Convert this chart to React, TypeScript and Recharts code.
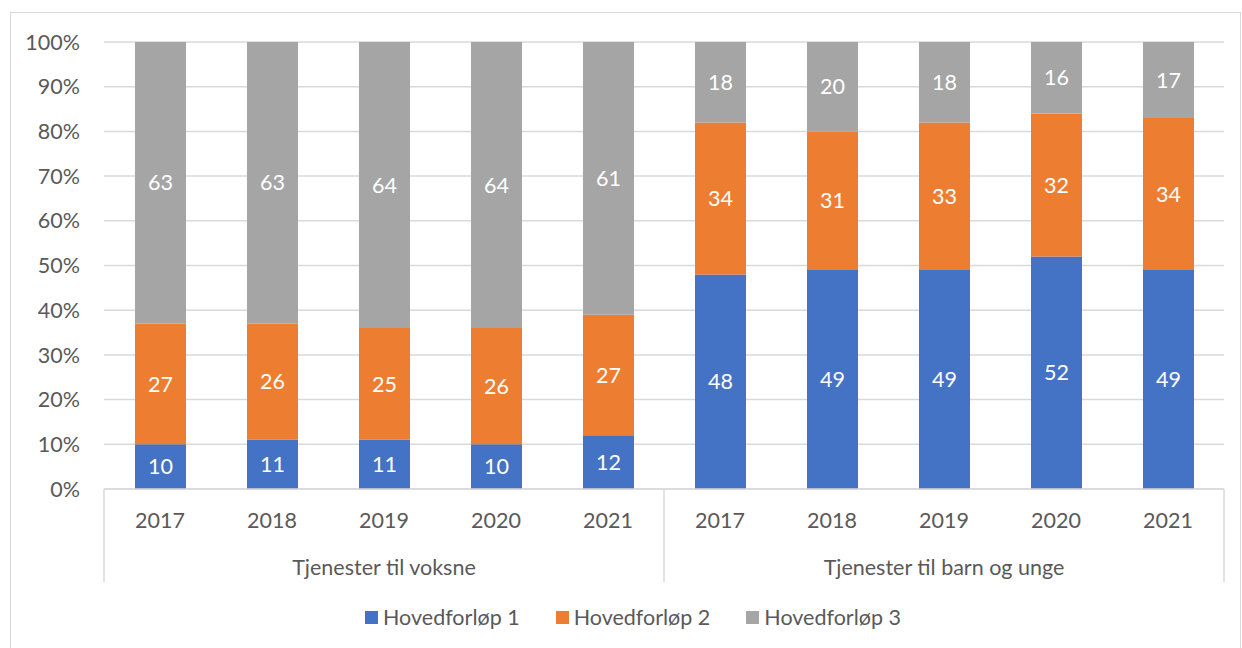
import React from "react";
import { BarChart, Bar, XAxis, YAxis, CartesianGrid, LabelList } from "recharts";

const years = ["2017", "2018", "2019", "2020", "2021", "2017", "2018", "2019", "2020", "2021"];
const groupLabels = ["Tjenester til voksne", "Tjenester til barn og unge"];
const hovedforlop1 = [10, 11, 11, 10, 12, 48, 49, 49, 52, 49];
const hovedforlop2 = [27, 26, 25, 26, 27, 34, 31, 33, 32, 34];
const hovedforlop3 = [63, 63, 64, 64, 61, 18, 20, 18, 16, 17];
const seriesNames = ["Hovedforløp 1", "Hovedforløp 2", "Hovedforløp 3"];
const yTicks = [0, 10, 20, 30, 40, 50, 60, 70, 80, 90, 100];

const COLORS = ["#4472C4", "#ED7D31", "#A5A5A5"];
const FONT = "Lato, 'Open Sans', sans-serif";
const FS = 21.5;
const TEXT = "#595959";
const GRID = "#D9D9D9";

const W = 1242;
const H = 648;
const MARGIN = { top: 42, right: 18, left: 24, bottom: 66 };
const Y_AXIS_W = 80;
const PLOT_W = W - MARGIN.left - MARGIN.right - Y_AXIS_W;
const BAND = PLOT_W / years.length;
const PER_GROUP = 5;

const data = years.map((year, i) => ({
  key: `c${i}`,
  year,
  group: groupLabels[Math.floor(i / PER_GROUP)],
  h1: hovedforlop1[i],
  h2: hovedforlop2[i],
  h3: hovedforlop3[i],
}));

const CategoryTick = (props: any) => {
  const { x, y, index } = props;
  const row = data[index];
  const pos = index % PER_GROUP;
  return (
    <g>
      <text
        x={x}
        y={y + 31}
        textAnchor="middle"
        dominantBaseline="central"
        fill={TEXT}
        fontSize={FS}
        fontFamily={FONT}
      >
        {row.year}
      </text>
      {pos === 0 && (
        <line x1={x - BAND / 2} x2={x - BAND / 2} y1={y} y2={y + 93} stroke={GRID} strokeWidth={1.5} />
      )}
      {index === years.length - 1 && (
        <line x1={x + BAND / 2} x2={x + BAND / 2} y1={y} y2={y + 93} stroke={GRID} strokeWidth={1.5} />
      )}
      {pos === 2 && (
        <text
          x={x}
          y={y + 78}
          textAnchor="middle"
          dominantBaseline="central"
          fill={TEXT}
          fontSize={FS}
          fontFamily={FONT}
        >
          {row.group}
        </text>
      )}
    </g>
  );
};

export default function App() {
  const keys = ["h1", "h2", "h3"];
  return (
    <div style={{ position: "absolute", left: 0, top: 0, width: W, height: H, background: "#fff", overflow: "hidden" }}>
      <div
        style={{
          position: "absolute",
          left: 10,
          top: 12,
          width: 1229,
          height: 660,
          border: `1px solid ${GRID}`,
        }}
      />
      <BarChart
        width={W}
        height={H}
        data={data}
        margin={MARGIN}
        barCategoryGap={61}
        style={{ position: "absolute", left: 0, top: 0 }}
      >
        <CartesianGrid vertical={false} stroke={GRID} strokeWidth={1.5} />
        <XAxis
          dataKey="key"
          height={93}
          interval={0}
          tickLine={false}
          tickSize={0}
          tickMargin={0}
          axisLine={{ stroke: GRID, strokeWidth: 1.5 }}
          tick={<CategoryTick />}
        />
        <YAxis
          width={Y_AXIS_W}
          domain={[0, 100]}
          ticks={yTicks}
          tickFormatter={(v: number) => `${v}%`}
          axisLine={false}
          tickLine={false}
          tickSize={0}
          tickMargin={24}
          tick={{ fill: TEXT, fontSize: FS, fontFamily: FONT }}
        />
        {keys.map((k, i) => (
          <Bar key={k} dataKey={k} stackId="a" fill={COLORS[i]} barSize={51} isAnimationActive={false}>
            <LabelList dataKey={k} position="center" fill="#FFFFFF" fontSize={FS} fontFamily={FONT} />
          </Bar>
        ))}
      </BarChart>
      <div
        style={{
          position: "absolute",
          left: 0,
          top: 604,
          width: W,
          boxSizing: "border-box",
          paddingLeft: 24,
          display: "flex",
          justifyContent: "center",
          gap: 36,
          fontFamily: FONT,
          fontSize: FS,
          color: TEXT,
        }}
      >
        {seriesNames.map((name, i) => (
          <div key={name} style={{ display: "flex", alignItems: "center", gap: 5 }}>
            <div style={{ width: 13, height: 13, background: COLORS[i] }} />
            <span>{name}</span>
          </div>
        ))}
      </div>
    </div>
  );
}
